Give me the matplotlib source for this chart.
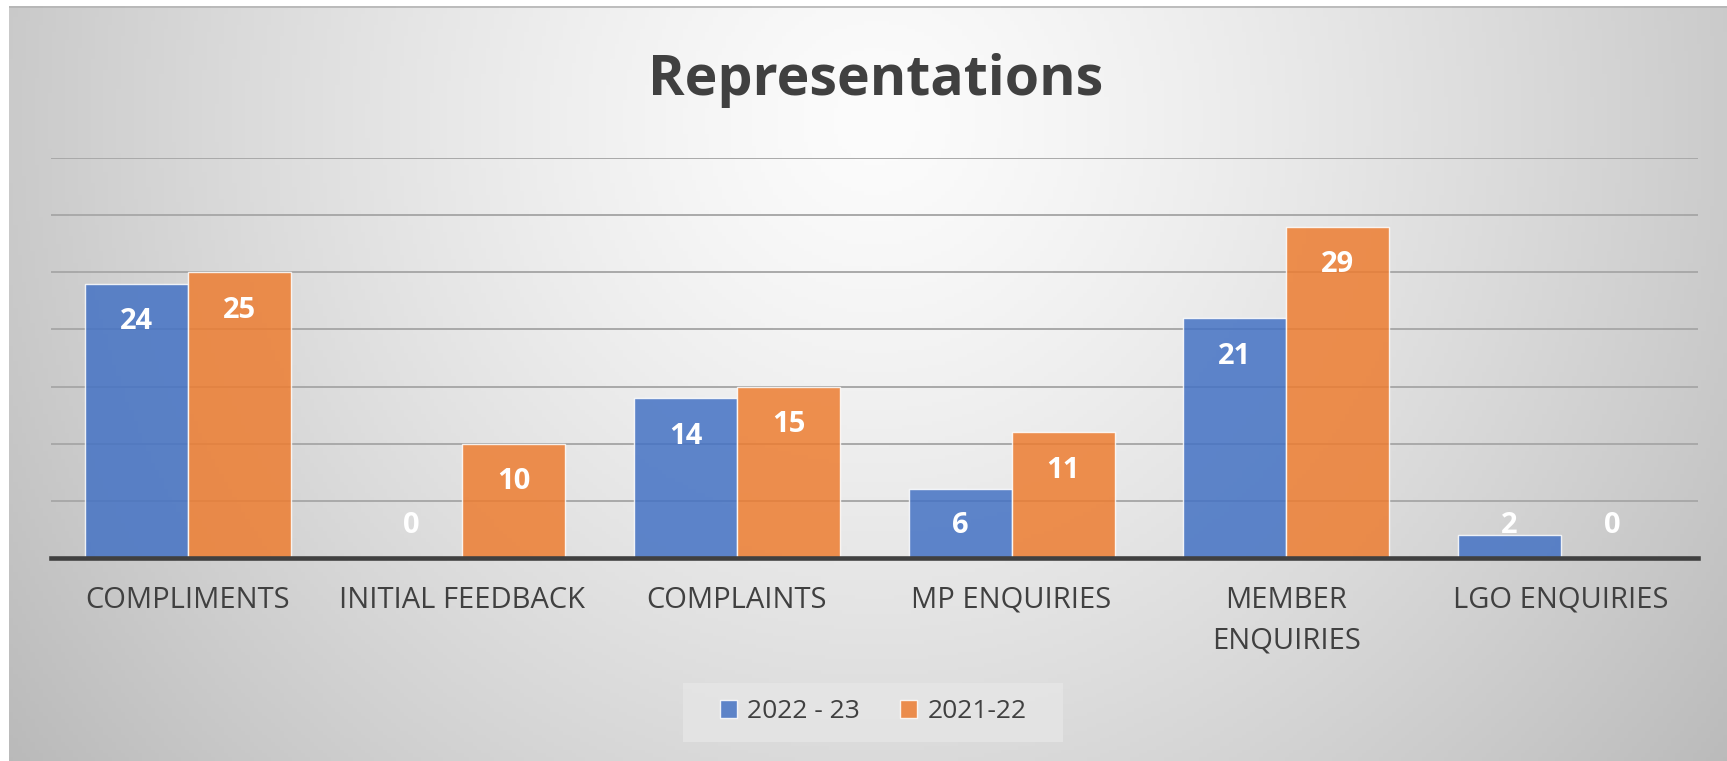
import numpy as np
import matplotlib
matplotlib.use("Agg")
import matplotlib.pyplot as plt
from matplotlib.patches import Rectangle, Patch


# # # # # # # # # # # # # # # #
#
#  Data
#
# # # # # # # # # # # # # # # #

categories = ["COMPLIMENTS", "INITIAL FEEDBACK", "COMPLAINTS",
              "MP ENQUIRIES", "MEMBER\nENQUIRIES", "LGO ENQUIRIES"]
series_names = ["2022 - 23", "2021-22"]
values_2022_23 = [24, 0, 14, 6, 21, 2]
values_2021_22 = [25, 10, 15, 11, 29, 0]

blue = "#4472C4"
orange = "#ED7D31"
text_col = "#404040"

plt.rcParams['font.family'] = ['Open Sans', 'DejaVu Sans']

W, H = 1727, 761
fig = plt.figure(figsize=(W / 100, H / 100), dpi=100)
fig.patch.set_facecolor("white")

# background gradient (radial-ish, light centre near the title)
bg = fig.add_axes([9 / W, 0, 1 - 9 / W, 1 - 6 / H], zorder=0)
xs = np.linspace(9, W, 400)
ys = np.linspace(6, H, 200)
gx, gy = np.meshgrid(xs, ys)
d = np.sqrt(((gx - 876) / 1000.0) ** 2 + ((gy - 120) / 1000.0) ** 2)
v = (252 - 60 * np.clip(d, 0, 1.12) ** 1.3) / 255.0
bg.imshow(np.dstack([v, v, v]), aspect="auto", extent=[0, 1, 0, 1], origin="upper")
bg.plot([0, 1], [0.999, 0.999], color="#b4b4b4", lw=1.2, transform=bg.transAxes)
bg.set_axis_off()

# main axes
ax = fig.add_axes([50.5 / W, 1 - 558 / H, (1698 - 50.5) / W, 400 / H], zorder=1)
ax.set_facecolor("none")

x = np.arange(len(categories))
bw = 0.375
ax.bar(x - bw / 2, values_2022_23, bw, color=blue, alpha=0.85,
       edgecolor="white", linewidth=1.0, zorder=3, label=series_names[0])
ax.bar(x + bw / 2, values_2021_22, bw, color=orange, alpha=0.85,
       edgecolor="white", linewidth=1.0, zorder=3, label=series_names[1])

ax.set_xlim(-0.5, len(categories) - 0.5)
ax.set_ylim(0, 35)
ax.set_yticks(np.arange(5, 36, 5))
ax.yaxis.grid(True, color="#a9a9a9", linewidth=1.4, zorder=1)
ax.tick_params(left=False, labelleft=False, bottom=False, labelbottom=False)
for s in ["left", "right", "top"]:
    ax.spines[s].set_visible(False)
ax.spines["bottom"].set_color(text_col)
ax.spines["bottom"].set_linewidth(3.3)
ax.spines["bottom"].set_zorder(4)

# data labels (inside end, kept above the axis for small bars)
for offs, vals in [(-bw / 2, values_2022_23), (bw / 2, values_2021_22)]:
    for xi, val in zip(x, vals):
        ax.text(xi + offs, max(val - 4.0, 2.15), str(val), ha="center", va="baseline",
                color="white", fontsize=21, fontweight="bold", zorder=5)

# category labels
for xi, lab in zip(x, categories):
    for k, line in enumerate(lab.split("\n")):
        ax.annotate(line, xy=(xi, 0), xycoords=("data", "axes fraction"),
                    xytext=(0, -36 - 29.5 * k), textcoords="offset points",
                    ha="center", va="baseline", fontsize=21, color=text_col)

# title
fig.text(876 / W, 1 - 95 / H, "Representations", ha="center", va="baseline",
         fontsize=40, fontweight="bold", color=text_col)

# legend
fig.patches.append(Rectangle((683 / W, 1 - 742 / H), 380 / W, 59 / H,
                             transform=fig.transFigure, facecolor="#e6e6e6",
                             edgecolor="none", alpha=0.8, zorder=1))
handles = [Patch(facecolor=blue, alpha=0.85, edgecolor="white"),
           Patch(facecolor=orange, alpha=0.85, edgecolor="white")]
leg = fig.legend(handles, series_names, loc="center", bbox_to_anchor=(873 / W, 1 - 712 / H),
                 ncol=2, frameon=False, fontsize=19, handlelength=0.65, handleheight=0.65,
                 handletextpad=0.4, columnspacing=1.5)
for t in leg.get_texts():
    t.set_color(text_col)

fig.savefig("out.png", dpi=100)
